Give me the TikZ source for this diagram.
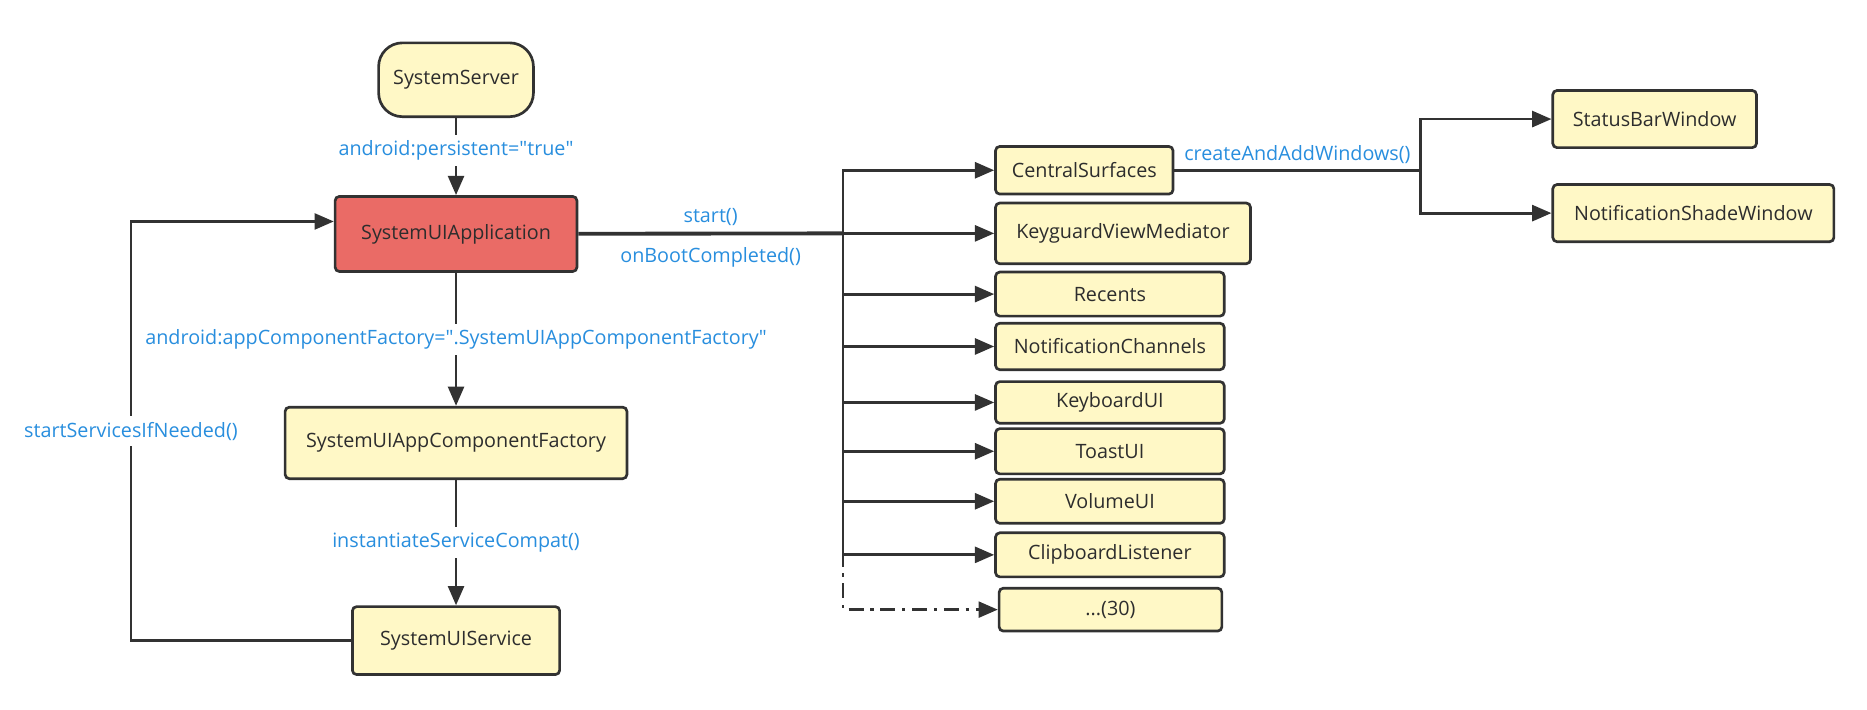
\documentclass[tikz,border=0pt]{standalone}
\usepackage{fontspec}
\setmainfont{Open Sans}
\usetikzlibrary{arrows.meta}
\definecolor{boxfill}{RGB}{255,248,198}
\definecolor{appfill}{RGB}{234,107,102}
\definecolor{edgecol}{RGB}{50,50,50}
\definecolor{callcol}{RGB}{40,142,222}

\begin{document}
\begin{tikzpicture}[x=0.025cm, y=-0.025cm,
        every node/.style={font=\fontsize{11.8}{14}\selectfont, text={rgb,255:red,45;green,45;blue,45}},
        box/.style={draw=edgecol, line width=1.6pt, fill=boxfill, rounded corners=2.5pt, inner sep=0pt},
        call/.style={text=callcol},
        line/.style={draw=edgecol, line width=1.7pt},
        arr/.style={line, -{Triangle[length=11.5pt,width=9.5pt]}}]
    \useasboundingbox (0,0) rectangle (1568,596);

    \node[box, rounded corners=0.5cm, minimum width=3.25cm, minimum height=1.55cm] (server) at (383,67) {SystemServer};
    \node[box, fill=appfill, minimum width=5.075cm, minimum height=1.575cm] (app) at (383,196.5) {SystemUIApplication};
    \node[box, minimum width=7.175cm, minimum height=1.5cm] (factory) at (383,372) {SystemUIAppComponentFactory};
    \node[box, minimum width=4.35cm, minimum height=1.425cm] (service) at (383,538) {SystemUIService};

    \node[box, anchor=west, minimum width=3.725cm, minimum height=1cm] (central) at (835,143) {CentralSurfaces};
    \node[box, anchor=west, minimum width=5.35cm, minimum height=1.275cm] (keyguard) at (835,196) {KeyguardViewMediator};
    \node[box, anchor=west, minimum width=4.8cm, minimum height=0.925cm] (recents) at (835,247) {Recents};
    \node[box, anchor=west, minimum width=4.8cm, minimum height=0.975cm] (channels) at (835,291) {NotificationChannels};
    \node[box, anchor=west, minimum width=4.8cm, minimum height=0.875cm] (keyboard) at (835,338) {KeyboardUI};
    \node[box, anchor=west, minimum width=4.8cm, minimum height=0.95cm] (toast) at (835,379) {ToastUI};
    \node[box, anchor=west, minimum width=4.8cm, minimum height=0.925cm] (volume) at (835,421) {VolumeUI};
    \node[box, anchor=west, minimum width=4.8cm, minimum height=0.925cm] (clipboard) at (835,466) {ClipboardListener};
    \node[box, anchor=west, minimum width=4.675cm, minimum height=0.9cm] (more) at (838,512) {...(30)};

    \node[box, anchor=west, minimum width=4.275cm, minimum height=1.2cm] (statusbar) at (1303,100) {StatusBarWindow};
    \node[box, anchor=west, minimum width=5.9cm, minimum height=1.2cm] (shade) at (1303,179) {NotificationShadeWindow};

    \coordinate (hub) at (708,196);
    \coordinate (split) at (1193,143);
    \coordinate (back) at (110,186);

    \draw[arr] (server) -- (app) node[call, fill=white, pos=0.42] {android:persistent=\textquotedbl true\textquotedbl};
    \draw[arr] (app) -- (factory) node[call, fill=white, midway] {android:appComponentFactory=\textquotedbl.SystemUIAppComponentFactory\textquotedbl};
    \draw[arr] (factory) -- (service) node[call, fill=white, midway] {instantiateServiceCompat()};
    \draw[arr] (service) -| (back) node[call, fill=white, pos=0.75] {startServicesIfNeeded()} -- (app.west |- back);

    \draw[line, line width=2.3pt] (app) -- (hub) node[call, above, midway] {start()} node[call, below=4pt, midway] {onBootCompleted()};
    \draw[arr] (hub) |- (central);
    \draw[arr] (hub) |- (keyguard);
    \draw[arr] (hub) |- (recents);
    \draw[arr] (hub) |- (channels);
    \draw[arr] (hub) |- (keyboard);
    \draw[arr] (hub) |- (toast);
    \draw[arr] (hub) |- (volume);
    \draw[arr] (hub) |- (clipboard);
    \draw[arr, dash pattern=on 9pt off 4pt on 2pt off 4pt] (hub) |- (more);

    \draw[line] (central) -- (split) node[call, above, midway] {createAndAddWindows()};
    \draw[arr] (split) |- (statusbar);
    \draw[arr] (split) |- (shade);
\end{tikzpicture}
\end{document}
